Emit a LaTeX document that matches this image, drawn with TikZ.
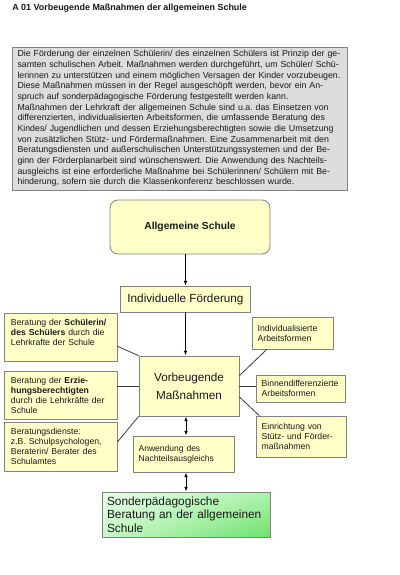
\documentclass[tikz,border=0pt]{standalone}
\usepackage{fontspec}
\setmainfont{Liberation Sans}
\usetikzlibrary{calc,arrows.meta,shadings}
\definecolor{boxfill}{RGB}{255,255,200}
\definecolor{boxline}{RGB}{130,130,130}
\definecolor{greyfill}{RGB}{221,221,221}
\definecolor{lineclr}{RGB}{60,60,60}
\definecolor{txt}{RGB}{25,25,25}
\definecolor{gA}{RGB}{232,255,232}
\definecolor{gB}{RGB}{175,242,175}
\definecolor{gC}{RGB}{110,226,110}
\newcommand\jl[1]{\makebox[243pt][s]{#1}\\}
\frenchspacing
\begin{document}
\begin{tikzpicture}[x=0.75pt,y=-0.75pt,
  box/.style={draw=boxline, line width=0.6pt, fill=boxfill, inner ysep=0pt, text=txt},
  smallL/.style={box, font=\fontsize{6.5}{7.5}\selectfont, align=left, inner xsep=5.25pt},
  smallR/.style={box, font=\fontsize{6.5}{7.5}\selectfont, align=left, inner xsep=4.2pt},
  link/.style={draw=lineclr, line width=0.6pt},
  arr/.style={draw=black, line width=0.6pt, -{Latex[length=3.5pt,width=2.6pt]}},
  darr/.style={draw=black, line width=0.6pt, {Latex[length=3.5pt,width=2.6pt]}-{Latex[length=3.5pt,width=2.6pt]}}]
\useasboundingbox (0,0) rectangle (400,575);
\fill[white] (0,0) rectangle (400,575);

\node[anchor=west, inner sep=0pt, text=txt, font=\fontsize{6.7}{8}\selectfont\bfseries] (title) at (12,8) {A 01 Vorbeugende Maßnahmen der allgemeinen Schule};

\node[draw=boxline, line width=0.6pt, fill=greyfill, text=txt, minimum width=251.25pt, minimum height=107.25pt, inner xsep=4.125pt, inner ysep=0pt, text width=243pt, align=left, font=\fontsize{6.6}{8}\selectfont] (intro) at (179.5,118.5) {%
\jl{Die Förderung der einzelnen Schülerin/ des einzelnen Schülers ist Prinzip der ge-}
\jl{samten schulischen Arbeit. Maßnahmen werden durchgeführt, um Schüler/ Schü-}
\jl{lerinnen zu unterstützen und einem möglichen Versagen der Kinder vorzubeugen.}
\jl{Diese Maßnahmen müssen in der Regel ausgeschöpft werden, bevor ein An-}
spruch auf sonderpädagogische Förderung festgestellt werden kann.\\
\jl{Maßnahmen der Lehrkraft der allgemeinen Schule sind u.a. das Einsetzen von}
\jl{differenzierten, individualisierten Arbeitsformen, die umfassende Beratung des}
\jl{Kindes/ Jugendlichen und dessen Erziehungsberechtigten sowie die Umsetzung}
\jl{von zusätzlichen Stütz- und Fördermaßnahmen. Eine Zusammenarbeit mit den}
\jl{Beratungsdiensten und außerschulischen Unterstützungssystemen und der Be-}
\jl{ginn der Förderplanarbeit sind wünschenswert. Die Anwendung des Nachteils-}
\jl{ausgleichs ist eine erforderliche Maßnahme bei Schülerinnen/ Schülern mit Be-}
hinderung, sofern sie durch die Klassenkonferenz beschlossen wurde.};

\node[box, rounded corners=6pt, minimum width=120pt, minimum height=40.5pt, font=\fontsize{7.7}{9}\selectfont\bfseries] (allg) at (190,227) {Allgemeine Schule};

\node[box, minimum width=97.5pt, minimum height=19.5pt, font=\fontsize{8.8}{10}\selectfont] (indf) at (185.5,299) {Individuelle Förderung};

\node[box, minimum width=75pt, minimum height=45pt, align=center, font=\fontsize{8.8}{13.5}\selectfont] (vorb) at (189,386) {Vorbeugende\\Maßnahmen};

\node[smallL, minimum width=84.75pt, minimum height=36pt, text width=74.25pt] (l1) at (60.5,337) {Beratung der \textbf{Schülerin/}\\\textbf{des Schülers} durch die\\Lehrkrafte der Schule\\\mbox{}};
\node[smallL, minimum width=84.75pt, minimum height=36pt, text width=74.25pt] (l2) at (60.5,395) {Beratung der \textbf{Erzie-}\\\textbf{hungsberechtigten}\\durch die Lehrkräfte der\\Schule};
\node[smallL, minimum width=84.75pt, minimum height=36.75pt, text width=74.25pt] (l3) at (60.5,446.5) {Beratungsdienste:\\z.B. Schulpsychologen,\\Beraterin/ Berater des\\Schulamtes};

\node[smallR, minimum width=60.75pt, minimum height=24pt, text width=52.35pt] (r1) at (292.5,333) {Individualisierte\\Arbeitsformen};
\node[smallR, minimum width=66.75pt, minimum height=20.25pt, text width=58.35pt] (r2) at (300.5,388.5) {Binnendifferenzierte\\Arbeitsformen};
\node[smallR, minimum width=67.5pt, minimum height=30.75pt, text width=59.1pt] (r3) at (301,436.5) {Einrichtung von\\Stütz- und Förder-\\maßnahmen};

\node[smallR, minimum width=75.75pt, minimum height=27pt, text width=67.35pt, font=\fontsize{6.4}{7.5}\selectfont] (anw) at (183.5,454) {Anwendung des\\Nachteilsausgleichs};

\node[draw=boxline, line width=0.6pt, upper left=gA, upper right=gB, lower left=gB!60!gA, lower right=gC, text=txt, minimum width=126pt, minimum height=33.75pt, inner xsep=3.75pt, inner ysep=0pt, text width=118.5pt, align=left, font=\fontsize{8.9}{10}\selectfont] (green) at (186,514.5) {Sonderpädagogische\\Beratung an der allgemeinen\\Schule};

% arrows
\draw[arr] (allg.south -| indf.north) -- (indf.north);
\draw[arr] (indf.south) -- (vorb.north -| indf.south);
\draw[darr] (vorb.south -| green.north) -- (anw.north -| green.north);
\draw[darr] (anw.south -| green.north) -- (green.north);

% links
\draw[link] ($(l1.north east)!0.69!(l1.south east)$) -- (vorb.north west);
\draw[link] (vorb.west -| l2.east) -- (vorb.west);
\draw[link] ($(l3.north east)!0.41!(l3.south east)$) -- (vorb.south west);
\draw[link] ($(vorb.north east)!0.33!(vorb.south east)$) -- ($(r1.south west)!0.185!(r1.south east)$);
\draw[link] (vorb.east) -- (vorb.east -| r2.west);
\draw[link] ($(vorb.north east)!0.68!(vorb.south east)$) -- ($(r3.north west)!0.04!(r3.north east)$);
\end{tikzpicture}
\end{document}
